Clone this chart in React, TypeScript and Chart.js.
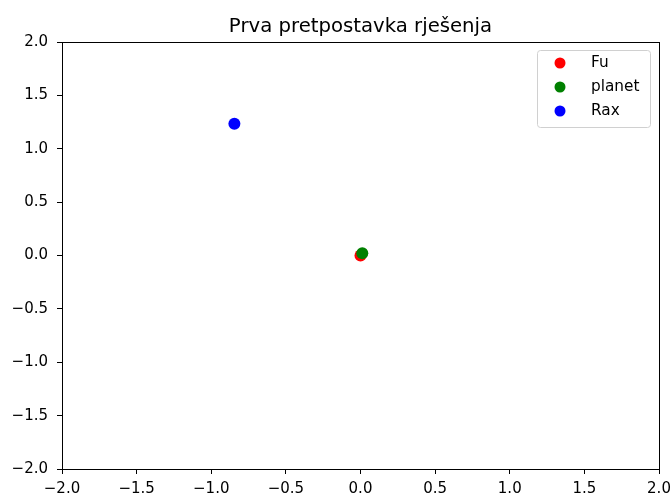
import React, { useEffect, useRef } from "react";
import { Chart, registerables } from "chart.js";

Chart.register(...registerables);

const seriesLabels = ["Fu", "planet", "Rax"];
const seriesColors = ["#ff0000", "#008000", "#0000ff"];
const xValues = [0.0, 0.012, -0.845];
const yValues = [0.0, 0.02, 1.235];
const tickValues = [-2.0, -1.5, -1.0, -0.5, 0.0, 0.5, 1.0, 1.5, 2.0];
const titleText = "Prva pretpostavka rješenja";

const FONT = "'DejaVu Sans', sans-serif";

const fmt = (v: number) => v.toFixed(1).replace("-", "\u2212");

const framePlugin = {
  id: "frameAndLegend",
  afterDraw(chart: any) {
    const { ctx, chartArea } = chart;
    const { left, right, top, bottom } = chartArea;
    ctx.save();
    // frame
    ctx.strokeStyle = "#000";
    ctx.lineWidth = 1;
    ctx.strokeRect(Math.round(left) + 0.5, Math.round(top) + 0.5, Math.round(right - left), Math.round(bottom - top));
    // title
    ctx.fillStyle = "#000";
    ctx.font = `19.7px ${FONT}`;
    ctx.textAlign = "center";
    ctx.textBaseline = "alphabetic";
    ctx.fillText(titleText, (left + right) / 2, top - 10);
    // legend
    const bx = 537.5, by = 50.5, bw = 113, bh = 77, r = 3;
    ctx.beginPath();
    ctx.moveTo(bx + r, by);
    ctx.lineTo(bx + bw - r, by);
    ctx.quadraticCurveTo(bx + bw, by, bx + bw, by + r);
    ctx.lineTo(bx + bw, by + bh - r);
    ctx.quadraticCurveTo(bx + bw, by + bh, bx + bw - r, by + bh);
    ctx.lineTo(bx + r, by + bh);
    ctx.quadraticCurveTo(bx, by + bh, bx, by + bh - r);
    ctx.lineTo(bx, by + r);
    ctx.quadraticCurveTo(bx, by, bx + r, by);
    ctx.closePath();
    ctx.fillStyle = "rgba(255,255,255,0.8)";
    ctx.fill();
    ctx.strokeStyle = "#d0d0d0";
    ctx.stroke();
    ctx.font = `15.3px ${FONT}`;
    ctx.textAlign = "left";
    ctx.textBaseline = "middle";
    chart.data.datasets.forEach((ds: any, i: number) => {
      const cy = 63 + i * 24;
      ctx.beginPath();
      ctx.arc(560, cy, 5.5, 0, Math.PI * 2);
      ctx.fillStyle = ds.backgroundColor;
      ctx.fill();
      ctx.fillStyle = "#000";
      ctx.fillText(ds.label, 591, cy);
    });
    ctx.restore();
  },
};

export default function App() {
  const ref = useRef<HTMLCanvasElement | null>(null);
  useEffect(() => {
    if (!ref.current) return;
    const chart = new Chart(ref.current, {
      type: "scatter",
      data: {
        datasets: seriesLabels.map((label, i) => ({
          label,
          data: [{ x: xValues[i], y: yValues[i] }],
          backgroundColor: seriesColors[i],
          borderColor: seriesColors[i],
          borderWidth: 0,
          pointRadius: 6,
          pointHoverRadius: 6,
          order: seriesLabels.length - i,
        })),
      },
      options: {
        animation: false,
        responsive: false,
        maintainAspectRatio: false,
        layout: { padding: { left: 0, right: 11, top: 42, bottom: 0 } },
        plugins: {
          legend: { display: false },
          title: { display: false },
          tooltip: { enabled: false },
        },
        scales: {
          x: {
            type: "linear",
            min: -2,
            max: 2,
            afterBuildTicks: (scale: any) => {
              scale.ticks = tickValues.map((v) => ({ value: v }));
            },
            afterFit: (scale: any) => {
              scale.height = 26;
              scale.paddingLeft = 0;
              scale.paddingRight = 0;
            },
            grid: {
              drawOnChartArea: false,
              drawTicks: true,
              tickLength: 5,
              color: "#000",
            },
            border: { display: true, color: "#000" },
            ticks: {
              color: "#000",
              font: { family: FONT, size: 15 },
              padding: 6,
              maxRotation: 0,
              autoSkip: false,
              callback: (v: any) => fmt(Number(v)),
            },
          },
          y: {
            type: "linear",
            min: -2,
            max: 2,
            afterBuildTicks: (scale: any) => {
              scale.ticks = tickValues.map((v) => ({ value: v }));
            },
            afterFit: (scale: any) => {
              scale.width = 62;
              scale.paddingTop = 0;
              scale.paddingBottom = 0;
            },
            grid: {
              drawOnChartArea: false,
              drawTicks: true,
              tickLength: 5,
              color: "#000",
            },
            border: { display: true, color: "#000" },
            ticks: {
              color: "#000",
              font: { family: FONT, size: 15 },
              padding: 9,
              autoSkip: false,
              callback: (v: any) => fmt(Number(v)),
            },
          },
        },
      },
      plugins: [framePlugin],
    });
    return () => chart.destroy();
  }, []);
  return (
    <div style={{ position: "absolute", left: 0, top: 0, width: 670, height: 495, background: "#fff" }}>
      <canvas ref={ref} width={670} height={495} style={{ width: 670, height: 495, display: "block" }} />
    </div>
  );
}
